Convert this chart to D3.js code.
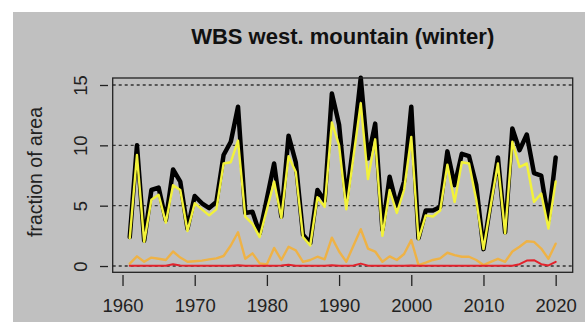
<!DOCTYPE html>
<html>
<head>
<meta charset="utf-8">
<script src="https://cdn.jsdelivr.net/npm/d3@7"></script>
<style>
  body { margin: 0; background: #ffffff; }
  svg { display: block; font-family: "Liberation Sans", Arial, sans-serif; }
</style>
</head>
<body>
<svg id="chart" width="585" height="322"></svg>
<script>
// yearly values, 1961-2020
let years = d3.range(1961, 2021);

let totalArea = [
    2.4, 10.0, 2.1, 6.3, 6.5, 3.8, 8.0, 7.0, 3.1, 5.8,
    5.2, 4.8, 5.3, 9.2, 10.3, 13.2, 4.4, 4.5, 2.7, 5.6,
    8.5, 4.1, 10.8, 8.6, 2.6, 1.9, 6.3, 5.4, 14.3, 11.7,
    5.5, 10.2, 15.6, 8.9, 11.8, 3.0, 7.4, 5.0, 7.0, 13.2,
    2.3, 4.6, 4.6, 4.9, 9.5, 6.7, 9.3, 9.1, 6.7, 1.4,
    5.3, 9.0, 2.8, 11.4, 9.6, 10.9, 7.7, 7.5, 3.8, 9.0
];
let yellowArea = [
    2.3, 9.2, 2.0, 5.5, 5.9, 3.6, 6.7, 6.3, 2.9, 5.2,
    4.7, 4.2, 4.7, 8.5, 8.6, 10.4, 4.1, 3.5, 2.4, 4.7,
    7.0, 4.0, 9.1, 7.8, 2.4, 1.7, 5.7, 4.9, 11.9, 10.0,
    4.7, 9.1, 13.5, 7.2, 10.5, 2.5, 6.3, 4.4, 6.3, 10.7,
    2.2, 4.2, 4.1, 4.6, 8.4, 5.3, 8.6, 8.5, 5.5, 1.4,
    5.0, 8.5, 2.7, 10.3, 8.2, 8.5, 5.3, 6.0, 3.1, 7.0
];
let orangeArea = [
    0.2, 0.8, 0.35, 0.7, 0.6, 0.5, 1.2, 0.7, 0.35, 0.4,
    0.45, 0.55, 0.63, 0.83, 1.7, 2.8, 0.6, 1.05, 0.22, 0.14,
    1.5, 0.5, 1.6, 1.3, 0.35, 0.5, 0.77, 0.55, 2.35, 1.2,
    0.35, 1.7, 3.05, 1.45, 1.2, 0.35, 0.8, 0.5, 1.0, 2.15,
    0.08, 0.28, 0.5, 0.63, 1.1, 0.9, 0.77, 0.77, 0.5, 0.08,
    0.35, 0.6, 0.35, 1.2, 1.6, 2.05, 2.0, 1.45, 0.6, 1.85
];
let redArea = [
    0.02, 0.02, 0.02, 0.02, 0.02, 0.03, 0.15, 0.05, 0.02, 0.02,
    0.02, 0.02, 0.02, 0.02, 0.03, 0.06, 0.02, 0.02, 0.02, 0.02,
    0.03, 0.04, 0.1, 0.03, 0.02, 0.02, 0.02, 0.03, 0.06, 0.02,
    0.02, 0.05, 0.2, 0.03, 0.02, 0.02, 0.02, 0.02, 0.02, 0.05,
    0.02, 0.02, 0.02, 0.02, 0.02, 0.02, 0.02, 0.02, 0.02, 0.02,
    0.02, 0.02, 0.02, 0.03, 0.15, 0.45, 0.48, 0.15, 0.05, 0.35
];

let xTicks = [1960, 1970, 1980, 1990, 2000, 2010, 2020];
let yTicks = [0, 5, 10, 15];
let title = "WBS west. mountain (winter)";
let yLabel = "fraction of area";

let svg = d3.select("#chart");

// grey panel
svg.append("rect")
    .attr("x", 13).attr("y", 12)
    .attr("width", 585 - 13).attr("height", 322 - 12)
    .attr("fill", "#c0c0c0");

// plot region, R style with 4% padding
let box = { left: 112.7, right: 572.7, top: 78, bottom: 272.3 };
let xScale = d3.scaleLinear().domain([1958.64, 2022.36]).range([box.left, box.right]);
let yScale = d3.scaleLinear().domain([-0.52, 15.58]).range([box.bottom, box.top]);

// dotted reference lines
svg.append("g").selectAll("line")
    .data(yTicks)
    .enter()
        .append("line")
        .attr("x1", box.left).attr("x2", box.right)
        .attr("y1", d => yScale(d)).attr("y2", d => yScale(d))
        .attr("stroke", "#333")
        .attr("stroke-width", 1.3)
        .attr("stroke-dasharray", "3,3");

// series
let line = d3.line()
    .x((d, i) => xScale(years[i]))
    .y(d => yScale(d));
let series = [
    { values: totalArea, color: "#000000", width: 4.5 },
    { values: yellowArea, color: "#f2f23a", width: 2.4 },
    { values: orangeArea, color: "#eeb246", width: 2.4 },
    { values: redArea, color: "#e2222c", width: 2 }
];
svg.append("g").selectAll("path")
    .data(series)
    .enter()
        .append("path")
        .attr("d", d => line(d.values))
        .attr("fill", "none")
        .attr("stroke", d => d.color)
        .attr("stroke-width", d => d.width)
        .attr("stroke-linejoin", "round")
        .attr("stroke-linecap", "round");

// box
svg.append("rect")
    .attr("x", box.left).attr("y", box.top)
    .attr("width", box.right - box.left).attr("height", box.bottom - box.top)
    .attr("fill", "none")
    .attr("stroke", "#222")
    .attr("stroke-width", 1.3);

// x axis, ticks only
let xAxis = svg.append("g")
    .attr("transform", "translate(0,275)")
    .call(d3.axisBottom(xScale).tickValues(xTicks).tickFormat(d3.format("d")).tickSize(11).tickPadding(13));
xAxis.select(".domain").remove();
xAxis.selectAll("line").attr("stroke", "#222").attr("stroke-width", 1.3);
xAxis.selectAll("text")
    .attr("font-size", 18.5)
    .attr("fill", "#222")
    .attr("font-family", "Liberation Sans, Arial, sans-serif");

// y axis, rotated labels as in R
let yAxis = svg.append("g")
    .attr("transform", "translate(108,0)")
    .call(d3.axisLeft(yScale).tickValues(yTicks).tickSize(8).tickFormat(d3.format("d")));
yAxis.select(".domain").remove();
yAxis.selectAll("line").attr("stroke", "#222").attr("stroke-width", 1.3);
yAxis.selectAll("text")
    .attr("x", null).attr("dy", null)
    .attr("transform", "translate(-28,0) rotate(-90)")
    .attr("text-anchor", "middle")
    .attr("dominant-baseline", "central")
    .attr("font-size", 18.5)
    .attr("fill", "#222")
    .attr("font-family", "Liberation Sans, Arial, sans-serif");

// title and label
svg.append("text")
    .text(title)
    .attr("x", (box.left + box.right) / 2).attr("y", 36)
    .attr("text-anchor", "middle")
    .attr("dominant-baseline", "central")
    .attr("font-size", 22)
    .attr("font-weight", "bold")
    .attr("fill", "#111");
svg.append("text")
    .text(yLabel)
    .attr("transform", "translate(35,172) rotate(-90)")
    .attr("text-anchor", "middle")
    .attr("dominant-baseline", "central")
    .attr("font-size", 19.5)
    .attr("fill", "#222");
</script>
</body>
</html>
